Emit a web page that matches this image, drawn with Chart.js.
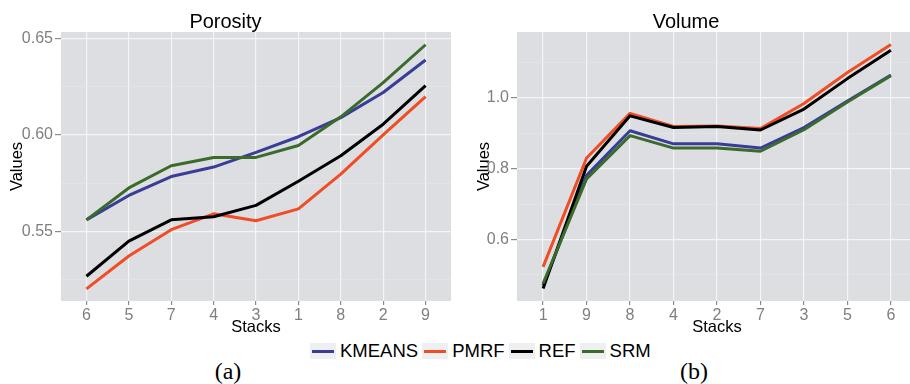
<!DOCTYPE html>
<html>
<head>
<meta charset="utf-8">
<script src="https://cdn.jsdelivr.net/npm/chart.js@4.4.1/dist/chart.umd.min.js"></script>
<style>
  html, body { margin: 0; padding: 0; background: #fff; }
  body { width: 910px; height: 384px; overflow: hidden; position: relative; font-family: "Liberation Sans", Arial, sans-serif; }
  canvas { position: absolute; top: 0; }
  #legend { position: absolute; left: 310px; top: 343px; height: 16px; display: flex; align-items: center; font-size: 18.5px; color: #000; }
  .key { width: 26px; height: 16px; background: #EEEFF0; position: relative; }
  .key i { position: absolute; left: 2px; right: 2px; top: 6.5px; height: 3px; }
  .lab { padding: 0 4px; line-height: 16px; }
  .cap { position: absolute; top: 358px; font-family: "Liberation Serif", "Times New Roman", serif; font-size: 24px; transform: translateX(-50%); }
</style>
</head>
<body>
<canvas id="porosityChart" width="455" height="340" style="left:0px"></canvas>
<canvas id="volumeChart" width="466" height="340" style="left:455px"></canvas>
<div id="legend"></div>
<div class="cap" style="left:228px">(a)</div>
<div class="cap" style="left:694px">(b)</div>
<script>
// series names and colours
const seriesNames = ['KMEANS', 'PMRF', 'REF', 'SRM'];
const seriesColors = ['#393D98', '#F04D26', '#000000', '#3A6B2B'];

// Porosity panel
const porosityStacks = ['6', '5', '7', '4', '3', '1', '8', '2', '9'];
const porosityKmeans = [0.556, 0.5686, 0.5784, 0.5833, 0.5909, 0.599, 0.6089, 0.6219, 0.6387];
const porosityPmrf   = [0.5203, 0.5373, 0.5509, 0.5591, 0.5555, 0.5617, 0.5797, 0.600, 0.6197];
const porosityRef    = [0.5268, 0.545, 0.556, 0.5576, 0.5635, 0.576, 0.5892, 0.6055, 0.6254];
const porositySrm    = [0.556, 0.5725, 0.584, 0.5883, 0.5883, 0.5945, 0.6093, 0.627, 0.6466];
const porosityMajor  = [0.55, 0.60, 0.65];
const porosityMinor  = [0.525, 0.575, 0.625];

// Volume panel
const volumeStacks = ['1', '9', '8', '4', '2', '7', '3', '5', '6'];
const volumeKmeans = [0.470, 0.781, 0.907, 0.870, 0.870, 0.858, 0.916, 0.991, 1.064];
const volumePmrf   = [0.523, 0.830, 0.956, 0.919, 0.920, 0.913, 0.984, 1.071, 1.150];
const volumeRef    = [0.462, 0.807, 0.949, 0.916, 0.919, 0.909, 0.968, 1.054, 1.134];
const volumeSrm    = [0.476, 0.771, 0.893, 0.858, 0.858, 0.849, 0.910, 0.988, 1.062];
const volumeMajor  = [0.6, 0.8, 1.0];
const volumeMinor  = [0.5, 0.7, 0.9, 1.1];

const panelBg = {
  id: 'panelBg',
  beforeDraw(chart) {
    const { ctx, chartArea: a } = chart;
    ctx.save();
    ctx.fillStyle = '#DCDEE1';
    ctx.fillRect(a.left, a.top, a.right - a.left, a.bottom - a.top);
    ctx.restore();
  }
};

function makeChart(id, title, stacks, series, yMin, yMax, major, minor, digits, axisWidth, yTitlePad, padRight) {
  const datasets = series.map((vals, i) => ({
    label: seriesNames[i],
    data: vals.map((v, k) => ({ x: k, y: v })),
    borderColor: seriesColors[i],
    borderWidth: 3,
    pointRadius: 0,
    tension: 0,
    borderJoinStyle: 'round',
    order: series.length - i
  }));

  return new Chart(document.getElementById(id), {
    type: 'line',
    data: { datasets },
    plugins: [panelBg],
    options: {
      responsive: false,
      animation: false,
      devicePixelRatio: 1,
      layout: { padding: { left: 0, right: padRight, top: 0, bottom: 0 } },
      plugins: {
        legend: { display: false },
        tooltip: { enabled: false },
        title: {
          display: true,
          text: title,
          color: '#000',
          font: { family: 'Liberation Sans', size: 20, weight: 'normal', lineHeight: 1 },
          padding: { top: 12, bottom: 0 }
        }
      },
      scales: {
        x: {
          type: 'linear',
          min: -0.6,
          max: stacks.length - 1 + 0.6,
          afterBuildTicks: s => { s.ticks = stacks.map((_, k) => ({ value: k })); },
          afterFit: s => { s.height = 39; },
          ticks: {
            callback: v => stacks[v],
            color: '#7F7F7F',
            font: { family: 'Liberation Sans', size: 16 },
            padding: 1,
            maxRotation: 0,
            autoSkip: false
          },
          grid: { color: '#F4F5F6', lineWidth: 1.2, tickColor: '#8A8A8A', tickLength: 4 },
          border: { display: false },
          title: {
            display: true,
            text: 'Stacks',
            color: '#000',
            font: { family: 'Liberation Sans', size: 16.5, lineHeight: 1 },
            padding: { top: 0, bottom: 4 }
          }
        },
        y: {
          type: 'linear',
          min: yMin,
          max: yMax,
          afterBuildTicks: s => {
            s.ticks = major.map(v => ({ value: v })).concat(minor.map(v => ({ value: v, minor: true })));
          },
          afterFit: s => { s.width = axisWidth; },
          ticks: {
            callback: (v, i, t) => (t[i] && t[i].minor) ? '' : v.toFixed(digits),
            color: '#7F7F7F',
            font: { family: 'Liberation Sans', size: 16 },
            padding: 2
          },
          grid: {
            color: c => (c.tick && c.tick.minor) ? '#E6E8EA' : '#F4F5F6',
            lineWidth: c => (c.tick && c.tick.minor) ? 0.6 : 1.2,
            tickColor: c => (c.tick && c.tick.minor) ? 'rgba(0,0,0,0)' : '#8A8A8A',
            tickLength: 6
          },
          border: { display: false },
          title: {
            display: true,
            text: 'Values',
            color: '#000',
            font: { family: 'Liberation Sans', size: 16.5, lineHeight: 1 },
            padding: { top: yTitlePad, bottom: 0 }
          }
        }
      }
    }
  });
}

makeChart('porosityChart', 'Porosity', porosityStacks,
  [porosityKmeans, porosityPmrf, porosityRef, porositySrm],
  0.514, 0.6532, porosityMajor, porosityMinor, 2, 61, 9, 4);

makeChart('volumeChart', 'Volume', volumeStacks,
  [volumeKmeans, volumePmrf, volumeRef, volumeSrm],
  0.4266, 1.1855, volumeMajor, volumeMinor, 1, 62, 21, 4);

// shared legend under both panels
const legend = document.getElementById('legend');
seriesNames.forEach((name, i) => {
  const key = document.createElement('span');
  key.className = 'key';
  const line = document.createElement('i');
  line.style.background = seriesColors[i];
  key.appendChild(line);
  const lab = document.createElement('span');
  lab.className = 'lab';
  lab.textContent = name;
  legend.appendChild(key);
  legend.appendChild(lab);
});
</script>
</body>
</html>
